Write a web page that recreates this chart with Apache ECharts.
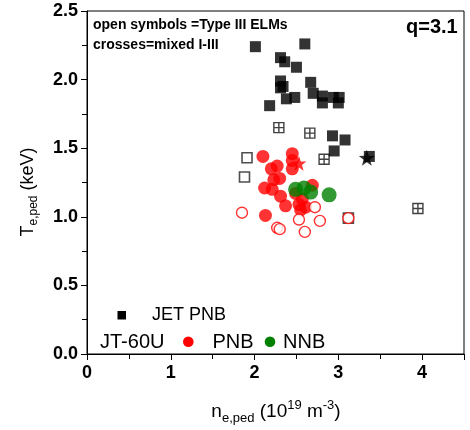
<!DOCTYPE html>
<html><head><meta charset="utf-8">
<script src="https://cdn.jsdelivr.net/npm/echarts@6/dist/echarts.min.js"></script>
<style>html,body{margin:0;padding:0;background:#fff}#c{width:470px;height:430px}</style>
</head><body><div id="c"></div>
<script>
// ---- data (n_e,ped [1e19 m^-3], T_e,ped [keV]) ----
const jetPNB = [[2.01,2.24],[2.60,2.26],[2.31,2.16],[2.36,2.13],[2.50,2.09],[2.31,1.99],[2.67,1.98],[2.31,1.94],[2.34,1.95],[2.70,1.90],[2.81,1.88],[2.81,1.83],[2.94,1.87],[3.01,1.87],[3.00,1.83],[2.38,1.86],[2.48,1.87],[2.18,1.81],[2.93,1.59],[3.08,1.56],[2.95,1.48],[3.37,1.44]];
const jetStar = [[3.34,1.43]];
const jetTypeIII = [[1.91,1.43],[1.88,1.29],[3.12,0.99]];
const jetMixed = [[2.29,1.65],[2.66,1.61],[2.83,1.42],[3.95,1.06]];
const jtPNB = [[2.10,1.44],[2.45,1.46],[2.45,1.41],[2.20,1.35],[2.27,1.37],[2.45,1.35],[2.23,1.27],[2.30,1.28],[2.12,1.21],[2.21,1.20],[2.31,1.15],[2.37,1.08],[2.13,1.01],[2.69,1.23],[2.49,1.17],[2.57,1.13],[2.53,1.09],[2.61,1.07],[2.55,1.05]];
const jtStar = [[2.53,1.39]];
const jtNNB = [[2.49,1.20],[2.59,1.21],[2.67,1.18],[2.89,1.16]];
const jtTypeIII = [[1.85,1.03],[2.27,0.92],[2.30,0.91],[2.53,0.98],[2.60,0.89],[2.72,1.07],[2.78,0.97],[3.12,0.99]];

const legendJET = 'JET PNB';
const legendJT = ['JT-60U','PNB','NNB'];
const note1 = 'open symbols =Type III ELMs';
const note2 = 'crosses=mixed I-III';
const qText = 'q=3.1';

const FF = '"Liberation Sans", Arial, sans-serif';
const STAR = 'path://M0,-10L2.35,-3.24L9.51,-3.09L3.8,1.24L5.88,8.09L0,4L-5.88,8.09L-3.8,1.24L-9.51,-3.09L-2.35,-3.24Z';
const CROSS = 'path://M0,0L10,0L10,10L0,10Z M5,0L5,10 M0,5L10,5';

const ctx = document.createElement('canvas').getContext('2d');
function tw(t, size, weight){ ctx.font = (weight||'normal') + ' ' + size + 'px ' + FF; return ctx.measureText(t).width; }
function pieces(list){
  let x = 0; const out = [];
  list.forEach(p => { out.push({type:'text', x:x, y:p.dy, style:{text:p.t, fontSize:p.f, fontFamily:FF, fill:'#000', align:'left', verticalAlign:'middle'}}); x += tw(p.t, p.f); });
  return {children: out, width: x};
}
const xName = pieces([{t:'n',f:19,dy:0},{t:'e,ped',f:13,dy:6},{t:' (10',f:19,dy:0},{t:'19',f:13,dy:-7},{t:' m',f:19,dy:0},{t:'-3',f:13,dy:-7},{t:')',f:19,dy:0}]);
const yName = pieces([{t:'T',f:18,dy:0},{t:'e,ped',f:12,dy:6},{t:' (keV)',f:18,dy:0}]);

const chart = echarts.init(document.getElementById('c'), null, {renderer:'canvas'});
const txt = (t, x, y, size, weight) => ({type:'text', x:x, y:y, style:{text:t, fontSize:size, fontWeight:weight||'normal', fontFamily:FF, fill:'#000', align:'left', verticalAlign:'middle'}});

chart.setOption({
  animation:false,
  backgroundColor:'#fff',
  grid:{left:87, right:6, top:11, bottom:76, show:true, borderColor:'#000', borderWidth:1},
  xAxis:{type:'value', min:0, max:4.5, interval:1,
    axisLine:{show:true, lineStyle:{color:'#000', width:1}},
    axisTick:{show:true, length:6, lineStyle:{color:'#000'}},
    minorTick:{show:true, splitNumber:2, length:5, lineStyle:{color:'#000'}},
    splitLine:{show:false},
    axisLabel:{margin:10, fontSize:18, fontWeight:'bold', fontFamily:FF, color:'#000', formatter:v => Number.isInteger(v) ? String(v) : ''}},
  yAxis:{type:'value', min:0, max:2.5, interval:0.5,
    axisLine:{show:true, lineStyle:{color:'#000', width:1}},
    axisTick:{show:true, length:6, lineStyle:{color:'#000'}},
    minorTick:{show:true, splitNumber:2, length:5, lineStyle:{color:'#000'}},
    splitLine:{show:false},
    axisLabel:{margin:9, fontSize:18, fontWeight:'bold', fontFamily:FF, color:'#000', formatter:v => v.toFixed(1)}},
  series:[
    {type:'scatter', data:jetTypeIII, symbol:'rect', symbolSize:10, itemStyle:{color:'#fff', borderColor:'#222', borderWidth:1.6}},
    {type:'scatter', data:jetMixed, symbol:CROSS, symbolSize:10, itemStyle:{color:'#fff', borderColor:'#111', borderWidth:1.4}},
    {type:'scatter', data:jetPNB, symbol:'rect', symbolSize:11, itemStyle:{color:'#000'}},
    {type:'scatter', data:jetStar, symbol:STAR, symbolSize:16, itemStyle:{color:'#000'}},
    {type:'scatter', data:jtPNB, symbol:'circle', symbolSize:13, itemStyle:{color:'#ff0000'}},
    {type:'scatter', data:jtStar, symbol:STAR, symbolSize:15, itemStyle:{color:'#ff0000'}},
    {type:'scatter', data:jtNNB, symbol:'circle', symbolSize:15, itemStyle:{color:'#008000'}},
    {type:'scatter', data:jtTypeIII, symbol:'circle', symbolSize:11, itemStyle:{color:'#fff', borderColor:'#ff0000', borderWidth:1.4}}
  ],
  graphic:[
    txt(note1, 93, 25, 14, 'bold'),
    txt(note2, 93, 45, 14, 'bold'),
    txt(qText, 406, 27, 20, 'bold'),
    {type:'rect', shape:{x:117.5, y:311, width:8.5, height:8.5}, style:{fill:'#000'}},
    txt(legendJET, 152, 315, 18),
    txt(legendJT[0], 100, 342, 20),
    {type:'circle', shape:{cx:188.3, cy:341.7, r:5.3}, style:{fill:'#ff0000'}},
    txt(legendJT[1], 212.5, 342, 20),
    {type:'circle', shape:{cx:270, cy:341.7, r:5.3}, style:{fill:'#008000'}},
    txt(legendJT[2], 283, 342, 20),
    {type:'group', x:276 - xName.width/2, y:412, children:xName.children},
    {type:'group', x:28, y:192 + yName.width/2, rotation:Math.PI/2, children:yName.children}
  ]
});
</script>
</body></html>
